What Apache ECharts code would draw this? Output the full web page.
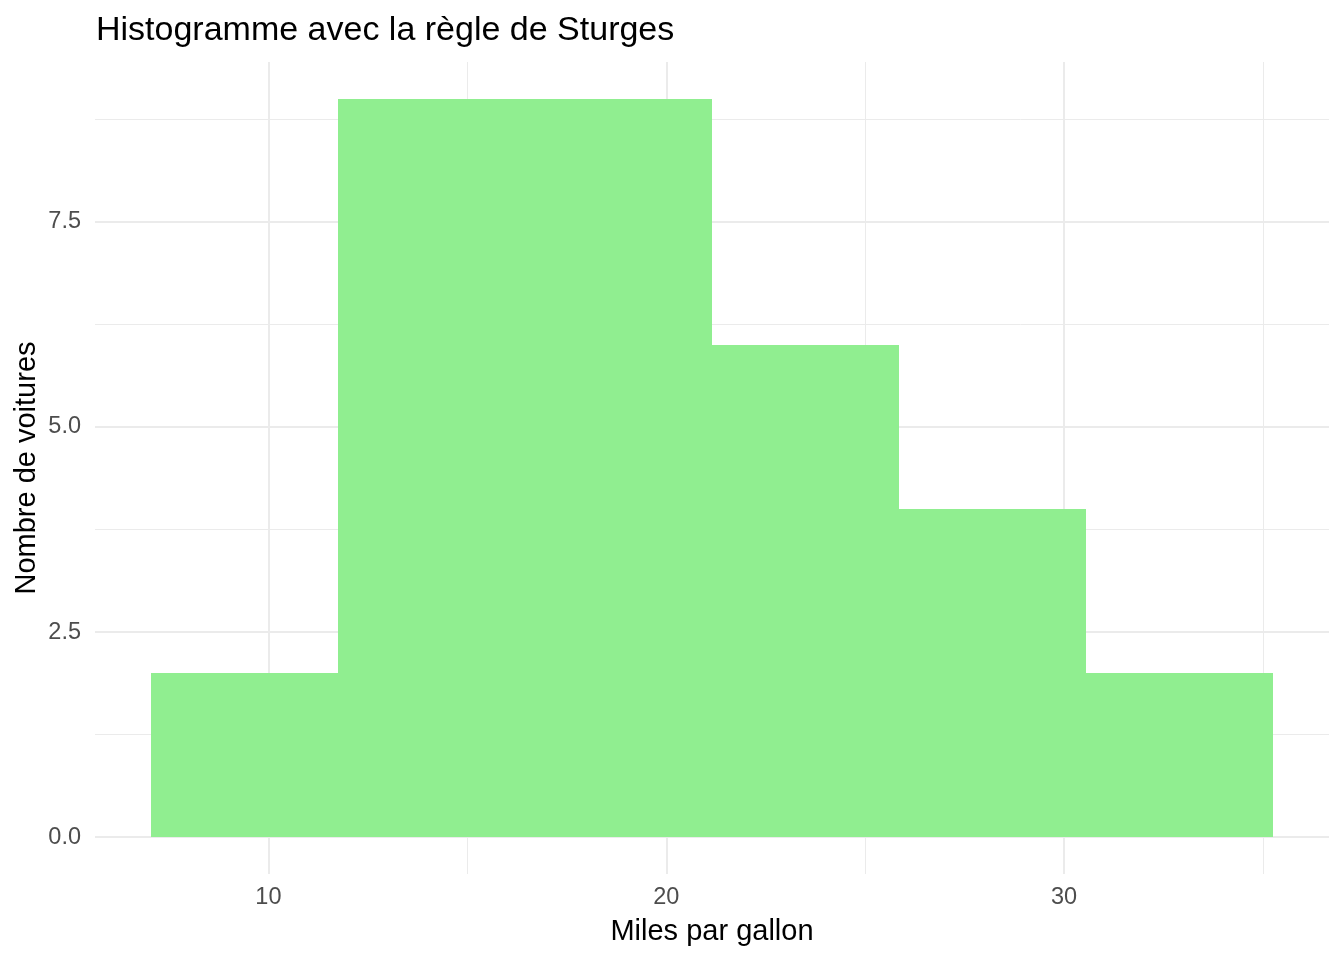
<!DOCTYPE html>
<html>
<head>
<meta charset="utf-8">
<script src="https://cdn.jsdelivr.net/npm/echarts@6/dist/echarts.min.js"></script>
<style>html,body{margin:0;padding:0;background:#fff}#c{width:1344px;height:960px}</style>
</head>
<body>
<div id="c"></div>
<script>
const binStarts = [7.05, 11.75, 16.45, 21.15, 25.85, 30.55];
const binEnds = [11.75, 16.45, 21.15, 25.85, 30.55, 35.25];
const counts = [2, 9, 9, 6, 4, 2];
const xMajorTicks = [10, 20, 30];
const xMinorTicks = [15, 25, 35];
const yMajorTicks = [0, 2.5, 5, 7.5];
const yMinorTicks = [1.25, 3.75, 6.25, 8.75];
const xLimits = [5.64, 36.66];
const yLimits = [-0.45, 9.45];

const FONT = "'Liberation Sans', Arial, sans-serif";
const chart = echarts.init(document.getElementById('c'), null, {renderer: 'canvas'});

const barData = counts.map((c, i) => [binStarts[i], binEnds[i], c]);

const gridLines = [
  ...xMajorTicks.map(v => ({xAxis: v, lineStyle: {width: 2}})),
  ...xMinorTicks.map(v => ({xAxis: v, lineStyle: {width: 1}})),
  ...yMajorTicks.map(v => ({yAxis: v, lineStyle: {width: 2}})),
  ...yMinorTicks.map(v => ({yAxis: v, lineStyle: {width: 1}}))
];

chart.setOption({
  animation: false,
  backgroundColor: '#ffffff',
  title: {
    text: 'Histogramme avec la règle de Sturges',
    left: 96, top: 14, padding: 0,
    textStyle: {fontFamily: FONT, fontSize: 34, fontWeight: 'normal', color: '#000000'}
  },
  graphic: [{
    type: 'text', x: 27, y: 468, rotation: Math.PI / 2, silent: true,
    style: {text: 'Nombre de voitures', font: "29px 'Liberation Sans', Arial, sans-serif",
      fill: '#000000', align: 'center', verticalAlign: 'middle'}
  }],
  grid: {left: 95, right: 15, top: 62, bottom: 86, containLabel: false},
  xAxis: {
    type: 'value', min: xLimits[0], max: xLimits[1],
    name: 'Miles par gallon', nameLocation: 'middle', nameGap: 43,
    nameTextStyle: {fontFamily: FONT, fontSize: 29, color: '#000000'},
    axisLine: {show: false}, axisTick: {show: false}, splitLine: {show: false},
    axisLabel: {customValues: xMajorTicks, margin: 12, fontFamily: FONT, fontSize: 23.5, color: '#4D4D4D',
      formatter: v => String(v)}
  },
  yAxis: {
    type: 'value', min: yLimits[0], max: yLimits[1],
    axisLine: {show: false}, axisTick: {show: false}, splitLine: {show: false},
    axisLabel: {customValues: yMajorTicks, margin: 14, fontFamily: FONT, fontSize: 23.5, color: '#4D4D4D',
      formatter: v => v.toFixed(1)}
  },
  series: [
    {
      type: 'line', data: [], z: 0, silent: true,
      markLine: {
        silent: true, symbol: ['none', 'none'], label: {show: false},
        lineStyle: {color: '#EBEBEB', type: 'solid'},
        emphasis: {disabled: true},
        data: gridLines
      }
    },
    {
      type: 'custom', z: 5, silent: true,
      data: barData,
      encode: {x: [0, 1], y: 2},
      renderItem: function (params, api) {
        const p0 = api.coord([api.value(0), api.value(2)]);
        const p1 = api.coord([api.value(1), 0]);
        const x0 = Math.round(p0[0]), x1 = Math.round(p1[0]);
        const y0 = Math.round(p0[1]), y1 = Math.round(p1[1]);
        return {
          type: 'rect',
          shape: {x: x0, y: y0, width: x1 - x0, height: y1 - y0},
          style: {fill: '#90EE90'}
        };
      }
    }
  ]
});
</script>
</body>
</html>
